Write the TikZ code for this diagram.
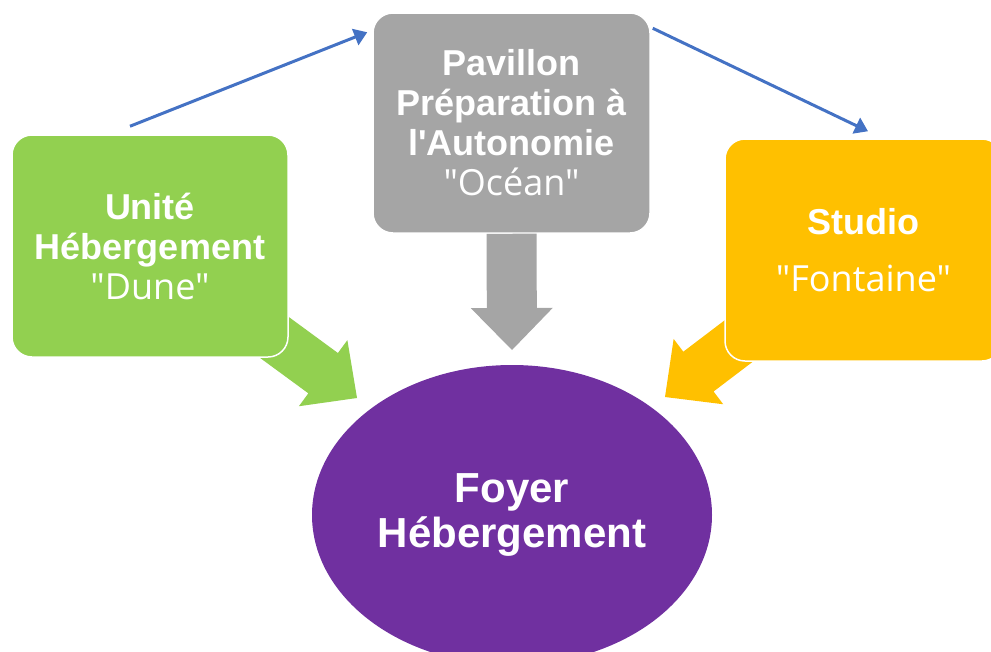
\documentclass[tikz,border=0pt]{standalone}
\usepackage{fontspec}
\setmainfont{Liberation Sans}[Ligatures=TeXOff]
\newfontfamily\quotefont{Open Sans}
\usepackage{tikz}
\usetikzlibrary{shapes,arrows.meta,positioning,calc}
\definecolor{dunegreen}{HTML}{92D050}
\definecolor{oceangrey}{HTML}{A5A5A5}
\definecolor{studioorange}{HTML}{FFC000}
\definecolor{foyerpurple}{HTML}{7030A0}
\definecolor{linkblue}{HTML}{4472C4}

% wide block arrow: start, tip, colour
\newcommand{\fatarrow}[3]{%
  \coordinate (hb) at ($(#2)!42pt!(#1)$);
  \fill[#3] ($(#1)!25pt!90:(#2)$) -- ($(hb)!25pt!90:(#2)$) -- ($(hb)!41pt!90:(#2)$)
    -- (#2) -- ($(hb)!41pt!-90:(#2)$) -- ($(hb)!25pt!-90:(#2)$) -- ($(#1)!25pt!-90:(#2)$) -- cycle;}

\begin{document}
\begin{tikzpicture}[x=1pt, y=-1pt,
    unit/.style={rectangle, rounded corners=20pt, draw=white, line width=1.5pt, text=white,
                 align=center, inner sep=0pt, font=\fontsize{36}{40}\selectfont\bfseries},
    link/.style={-{Triangle[length=13pt, width=17pt]}, line width=3pt, linkblue}]

    \useasboundingbox (0,0) rectangle (991,651);
    \clip (0,0) rectangle (991,651);

    % Foyer
    \node[ellipse, fill=foyerpurple, text=white, align=center, inner sep=0pt,
          minimum width=400pt, minimum height=300pt,
          font=\fontsize{42}{45}\selectfont\bfseries] (foyer) at (512,515) {Foyer\\H\'ebergement};

    % Ends of the block arrows
    \coordinate (dunestart) at (252,321);
    \coordinate (dunetip) at (357,398);
    \coordinate (oceantip) at (512,350);
    \coordinate (fontainestart) at (769,318);
    \coordinate (fontainetip) at (665,397);

    % Units
    \node[unit, fill=oceangrey, minimum width=277pt, minimum height=220pt] (ocean) at (511.5,123)
        {Pavillon\\Pr\'eparation \`a\\l'Autonomie\\{\quotefont\mdseries "Oc\'ean"}};

    % Block arrows (behind the side units)
    \fatarrow{dunestart}{dunetip}{dunegreen}
    \fatarrow{ocean.south}{oceantip}{oceangrey}
    \fatarrow{fontainestart}{fontainetip}{studioorange}

    \node[unit, fill=dunegreen, minimum width=276pt, minimum height=222pt] (dune) at (150,246)
        {Unit\'e\\H\'ebergement\\{\quotefont\mdseries "Dune"}};
    \node[unit, fill=studioorange, minimum width=277pt, minimum height=222pt] (fontaine) at (863.5,250)
        {Studio\\[17pt]{\quotefont\mdseries "Fontaine"}};

    % Links
    \draw[link] ([xshift=-20pt,yshift=8pt]dune.north) -- ([xshift=-5pt,yshift=-20pt]ocean.north west);
    \draw[link] ([xshift=2pt,yshift=-16pt]ocean.north east) -- ([xshift=4.5pt,yshift=7pt]fontaine.north);
\end{tikzpicture}
\end{document}
